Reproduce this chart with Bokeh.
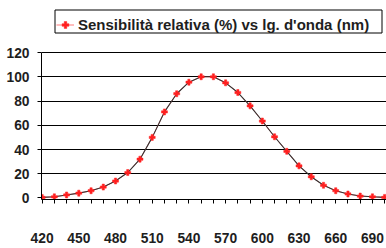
from bokeh.plotting import figure
from bokeh.models import Range1d, FixedTicker, Legend, LegendItem, ColumnDataSource
from bokeh.embed import file_html
from bokeh.resources import INLINE

wavelengths = [420, 430, 440, 450, 460, 470, 480, 490, 500, 510, 520, 530, 540, 550, 560,
               570, 580, 590, 600, 610, 620, 630, 640, 650, 660, 670, 680, 690, 700]
sensitivity = [0.5, 1, 2.5, 4, 6, 9, 14, 21, 32, 50, 71, 86, 95.5, 100, 100,
               95, 87, 76, 63.5, 50.5, 38.5, 26.5, 17.5, 10.5, 6, 3.3, 1.6, 1, 0.5]
x_tick_labels = [420, 450, 480, 510, 540, 570, 600, 630, 660, 690]
y_ticks = [0, 20, 40, 60, 80, 100, 120]
legend_label = "Sensibilità relativa (%) vs lg. d'onda (nm)"

FONT = "Liberation Sans"
TXT = "#1e1e1e"
RED = "#ff2020"

W, H = 386, 248
LEFT, RIGHT, TOP, BOTTOM = 41, 0, 8, 49
X0, X1 = 419.5, 701.5
Y0, Y1 = -1.24, 156.3

p = figure(width=W, height=H, output_backend="svg", toolbar_location=None,
           x_range=Range1d(X0, X1), y_range=Range1d(Y0, Y1),
           min_border_left=LEFT, min_border_right=RIGHT, min_border_top=TOP,
           min_border_bottom=BOTTOM)
p.outline_line_color = None
p.background_fill_color = "white"
p.border_fill_color = "white"

# helpers: page pixel -> data coordinate (for the legend frame only)
fw, fh = W - LEFT - RIGHT, H - TOP - BOTTOM
def px_x(px):
    return X0 + (px - LEFT) * (X1 - X0) / fw
def px_y(py):
    return Y0 + (H - BOTTOM - py) * (Y1 - Y0) / fh

src = ColumnDataSource(dict(x=wavelengths, y=sensitivity))
red_ln = p.line("x", "y", source=src, line_color=RED, line_width=0.6)
ln = p.line("x", "y", source=src, line_color="#333333", line_width=1.1)
sc = p.scatter("x", "y", source=src, marker="plus", size=6, fill_color=RED,
               line_color=RED, line_width=0.5)

# legend frame (drawn as a closed polyline, just outside the legend box)
bl, br, bt, bb = px_x(54.5), px_x(381.5), px_y(9.5), px_y(32.5)
p.multi_line(xs=[[bl, br, br, bl, bl]], ys=[[bb, bb, bt, bt, bb]],
             line_color="black", line_width=1)

# x axis
xa = p.xaxis[0]
xa.ticker = FixedTicker(ticks=wavelengths)
xa.major_label_overrides = {w: (str(w) if w in x_tick_labels else "") for w in wavelengths}
xa.major_tick_out = 4
xa.major_tick_in = 0
xa.minor_tick_out = 0
xa.minor_tick_in = 0
xa.axis_line_color = "black"
xa.major_tick_line_color = "black"
xa.major_label_standoff = 29
xa.major_label_text_font = FONT
xa.major_label_text_font_style = "bold"
xa.major_label_text_font_size = "13.8px"
xa.major_label_text_color = TXT

# y axis
ya = p.yaxis[0]
ya.ticker = FixedTicker(ticks=y_ticks)
ya.bounds = (Y0, y_ticks[-1])
ya.major_tick_out = 4
ya.major_tick_in = 0
ya.minor_tick_out = 0
ya.minor_tick_in = 0
ya.axis_line_color = "black"
ya.major_tick_line_color = "black"
ya.major_label_standoff = 8
ya.major_label_text_font = FONT
ya.major_label_text_font_style = "bold"
ya.major_label_text_font_size = "13.8px"
ya.major_label_text_color = TXT

p.xgrid.visible = False
p.ygrid[0].ticker = FixedTicker(ticks=y_ticks[1:])
p.ygrid.grid_line_color = "black"
p.ygrid.grid_line_width = 1

legend = Legend(items=[LegendItem(label=legend_label, renderers=[red_ln, sc])],
                location=(15, 166.5), orientation="vertical",
                border_line_color=None, background_fill_color=None,
                label_text_font=FONT, label_text_font_style="bold",
                label_text_font_size="15px", label_text_color=TXT,
                glyph_width=18, glyph_height=17, label_height=17, label_width=298,
                label_standoff=4, padding=2, margin=0, spacing=0)
p.add_layout(legend, "center")

open("out.html", "w").write(file_html(p, INLINE))
